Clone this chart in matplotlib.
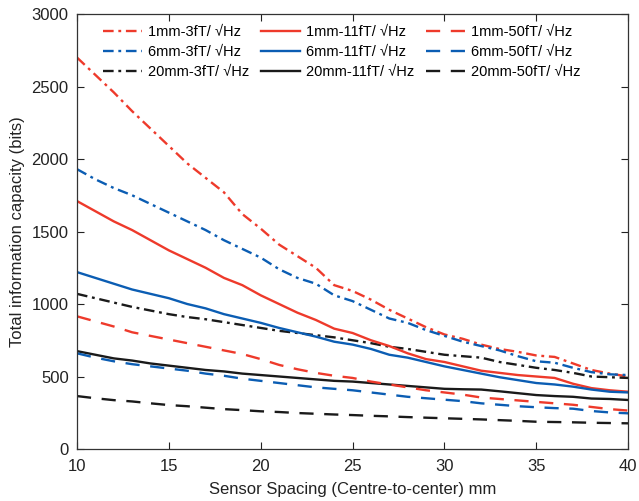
import numpy as np
import matplotlib.pyplot as plt

plt.rcParams['font.family'] = ['Liberation Sans', 'DejaVu Sans']

# sensor spacing (mm)
spacing = list(range(10, 41))

# 3 fT/sqrt(Hz)
cap_1mm_3fT = [2700, 2580, 2460, 2330, 2210, 2090, 1970, 1870, 1770, 1620, 1520,
               1410, 1330, 1250, 1130, 1090, 1030, 960, 900, 840, 790,
               760, 720, 690, 670, 645, 635, 590, 545, 520, 500]
cap_6mm_3fT = [1930, 1860, 1800, 1750, 1690, 1630, 1570, 1510, 1440, 1380, 1320,
               1240, 1180, 1140, 1060, 1020, 960, 900, 870, 820, 780,
               740, 710, 680, 640, 605, 595, 560, 530, 515, 510]
cap_20mm_3fT = [1070, 1040, 1010, 980, 955, 930, 910, 895, 875, 855, 835,
                815, 800, 785, 770, 750, 730, 705, 690, 670, 650,
                640, 630, 600, 580, 560, 545, 525, 500, 495, 490]

# 11 fT/sqrt(Hz)
cap_1mm_11fT = [1710, 1640, 1570, 1510, 1440, 1370, 1310, 1250, 1180, 1130, 1060,
                1000, 940, 890, 830, 800, 750, 710, 660, 620, 600,
                570, 540, 525, 510, 500, 490, 450, 420, 405, 395]
cap_6mm_11fT = [1220, 1180, 1140, 1100, 1070, 1040, 1000, 970, 930, 900, 870,
                835, 805, 775, 740, 720, 690, 650, 630, 600, 570,
                545, 520, 495, 475, 455, 445, 430, 410, 395, 390]
cap_20mm_11fT = [675, 650, 625, 610, 590, 575, 560, 545, 535, 520, 510,
                 500, 490, 480, 470, 465, 455, 445, 435, 425, 415,
                 412, 410, 398, 385, 372, 365, 360, 348, 345, 338]

# 50 fT/sqrt(Hz)
cap_1mm_50fT = [915, 880, 845, 805, 780, 755, 730, 705, 680, 655, 620,
                580, 550, 525, 505, 490, 465, 445, 425, 405, 390,
                375, 355, 345, 335, 325, 315, 305, 290, 275, 265]
cap_6mm_50fT = [660, 630, 605, 585, 570, 555, 540, 520, 505, 485, 470,
                455, 440, 425, 415, 405, 390, 375, 360, 350, 340,
                330, 315, 305, 295, 288, 282, 278, 262, 252, 246]
cap_20mm_50fT = [365, 350, 337, 328, 315, 303, 295, 285, 275, 268, 260,
                 255, 248, 243, 238, 234, 229, 225, 220, 216, 212,
                 208, 204, 199, 194, 188, 186, 184, 181, 179, 177]

red = '#ee3a2b'
blue = '#0b5db3'
black = '#1a1a1a'

dashdot = (0, (4.5, 2, 1.2, 2))
dashed = (0, (6, 4.5))

# order: column-wise for the legend (3fT, 11fT, 50fT)
series = [
    (cap_1mm_3fT, red, dashdot, '1mm-3fT/ √Hz'),
    (cap_6mm_3fT, blue, dashdot, '6mm-3fT/ √Hz'),
    (cap_20mm_3fT, black, dashdot, '20mm-3fT/ √Hz'),
    (cap_1mm_11fT, red, '-', '1mm-11fT/ √Hz'),
    (cap_6mm_11fT, blue, '-', '6mm-11fT/ √Hz'),
    (cap_20mm_11fT, black, '-', '20mm-11fT/ √Hz'),
    (cap_1mm_50fT, red, dashed, '1mm-50fT/ √Hz'),
    (cap_6mm_50fT, blue, dashed, '6mm-50fT/ √Hz'),
    (cap_20mm_50fT, black, dashed, '20mm-50fT/ √Hz'),
]

fig = plt.figure(figsize=(6.39, 5.01), dpi=100)
ax = fig.add_axes([0.1205, 0.1038, 0.8625, 0.8682])

for vals, col, ls, lab in series:
    ax.plot(spacing, vals, color=col, linestyle=ls, linewidth=1.7, label=lab)

ax.set_xlim(10, 40)
ax.set_ylim(0, 3000)
ax.set_xticks(np.arange(10, 41, 5))
ax.set_yticks(np.arange(0, 3001, 500))
ax.tick_params(direction='in', top=True, right=True, labelsize=12, length=5, width=0.8, colors='#222222')
ax.tick_params(axis='x', pad=7)
ax.tick_params(axis='y', pad=6)
for s in ax.spines.values():
    s.set_linewidth(0.9)
    s.set_color('#333333')

ax.set_xlabel('Sensor Spacing (Centre-to-center) mm', fontsize=12, labelpad=6, color='#222222')
ax.set_ylabel('Total information capacity (bits)', fontsize=12, labelpad=5, color='#222222')

ax.legend(loc='upper left', bbox_to_anchor=(0.047, 0.975), ncol=3, frameon=False,
          fontsize=10.5, handlelength=2.7, handletextpad=0.4, columnspacing=0.8,
          labelspacing=0.42, borderpad=0, borderaxespad=0)

fig.savefig('out.png', dpi=100)
